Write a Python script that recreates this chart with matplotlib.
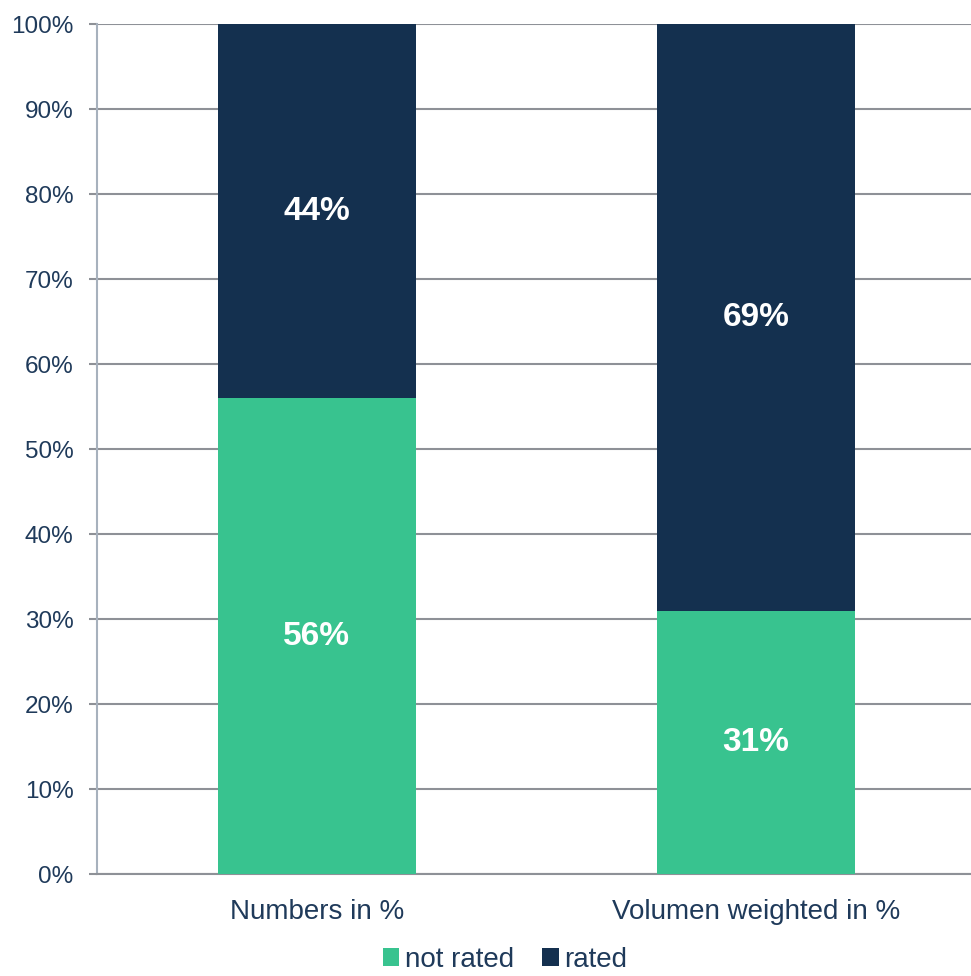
import numpy as np
import matplotlib.pyplot as plt
from matplotlib.ticker import PercentFormatter

plt.rcParams['font.family'] = ['Liberation Sans', 'DejaVu Sans']

categories = ["Numbers in %", "Volumen weighted in %"]
not_rated = [56, 31]
rated = [44, 69]
series_names = ["not rated", "rated"]

green = "#38C38F"
navy = "#14304F"
text_col = "#1F3A5A"

fig = plt.figure(figsize=(9.71, 9.76), dpi=100)
ax = fig.add_axes([0.0999, 0.1045, 0.9001, 0.8709])

x = np.arange(len(categories))
w = 0.451
b1 = ax.bar(x, not_rated, w, color=green, label=series_names[0], zorder=3)
b2 = ax.bar(x, rated, w, bottom=not_rated, color=navy, label=series_names[1], zorder=3)

# labels in the middle of each segment
for i in range(len(categories)):
    ax.text(x[i], not_rated[i] / 2, f"{not_rated[i]}%", ha="center", va="center",
            color="white", fontsize=24, fontweight="bold", zorder=4)
    ax.text(x[i], not_rated[i] + rated[i] / 2, f"{rated[i]}%", ha="center", va="center",
            color="white", fontsize=24, fontweight="bold", zorder=4)

ax.set_xlim(-0.501, 1.490)
ax.set_ylim(0, 100)
ax.set_yticks(np.arange(0, 101, 10))
ax.yaxis.set_major_formatter(PercentFormatter(decimals=0))
ax.set_xticks(x)
ax.set_xticklabels(categories)
ax.yaxis.grid(True, color="#8E9197", linewidth=1.5, zorder=0)

for s in ["top", "right"]:
    ax.spines[s].set_visible(False)
ax.spines["left"].set_color("#A7B1BD")
ax.spines["left"].set_linewidth(1.5)
ax.spines["bottom"].set_color("#8E9197")
ax.spines["bottom"].set_linewidth(1.5)

ax.tick_params(axis="y", length=6, width=1.5, color="#8E9197", labelsize=17.5,
               labelcolor=text_col, pad=11)
ax.tick_params(axis="x", length=0, labelsize=20, labelcolor=text_col, pad=18)

fig.legend(handles=[b1, b2], labels=series_names, loc="center",
           bbox_to_anchor=(0.52, 0.0165), ncol=2, frameon=False, fontsize=20,
           labelcolor=text_col, handlelength=0.6, handleheight=0.6,
           handletextpad=0.2, columnspacing=1.0)

fig.savefig("out.png", dpi=100)
